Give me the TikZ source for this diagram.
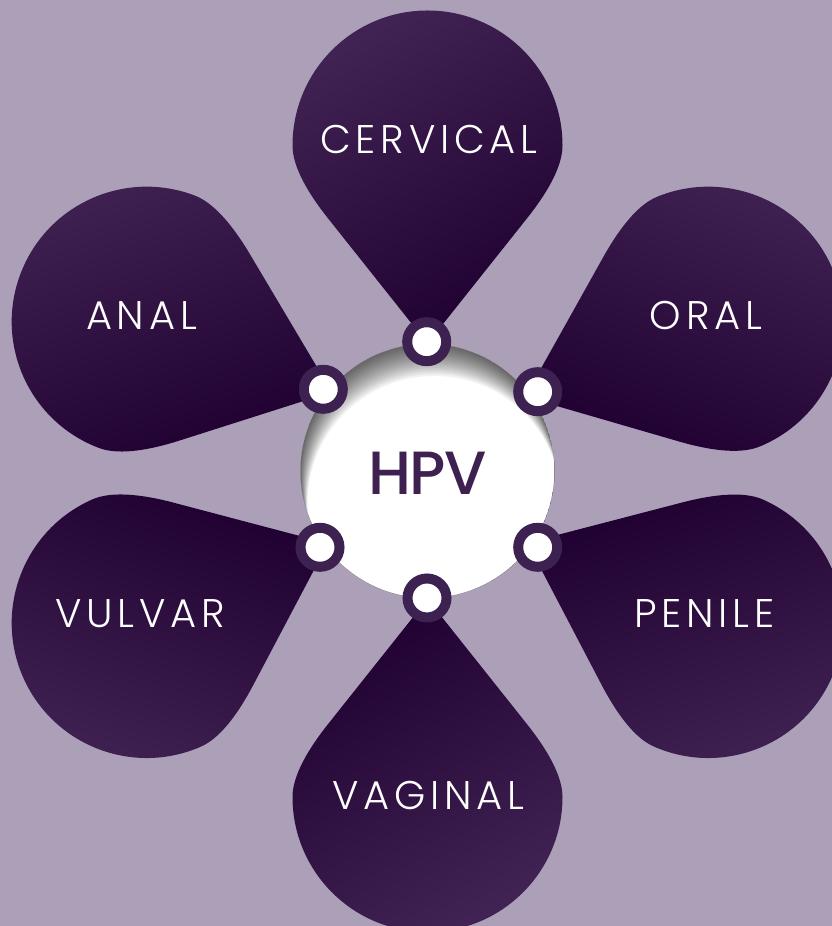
\documentclass[tikz,border=0pt]{standalone}
\usepackage{fontspec}
\newfontfamily\lblfont{Poppins}[UprightFont={* Light}, LetterSpace=12]
\newfontfamily\hpvfont{Poppins}[UprightFont={* Medium}, LetterSpace=-3]
\definecolor{bg}{HTML}{ACA0B9}
\definecolor{plight}{HTML}{402253}
\definecolor{pdark}{HTML}{1F0031}
\definecolor{ringc}{HTML}{3D2151}
\definecolor{hpvc}{HTML}{3F2151}
\def\petalpath{(0,-198) -- (100.8,-71.2) .. controls (123.6,-42.1) and (135,-18.3) .. (135,0) arc[start angle=0, end angle=180, radius=135] .. controls (-135,-18.3) and (-123.6,-42.1) .. (-100.8,-71.2) -- cycle}
\tikzset{
  lbl/.style={text=white, font=\lblfont\fontsize{40}{40}\selectfont, inner sep=0pt},
  ring/.style={circle, draw=ringc, line width=10pt, fill=white, minimum size=39pt, inner sep=0pt},
  farlight/.style={top color=plight, bottom color=pdark},
  fardark/.style={top color=pdark, bottom color=plight}
}
\begin{document}
\begin{tikzpicture}[x=1pt,y=1pt]
\useasboundingbox (0,0) rectangle (832,926);
\fill[bg] (0,0) rectangle (832,926);
\clip (0,0) rectangle (832,926);
% petals
\begin{scope}[shift={(427.5,780.5)}]
  \shade[farlight, shading angle=30] \petalpath;
\end{scope}
\begin{scope}[shift={(146.7,604.3)}, rotate=69.2]
  \shade[farlight, shading angle=20] \petalpath;
\end{scope}
\begin{scope}[shift={(708.3,604.3)}, rotate=-67.7]
  \shade[farlight, shading angle=-20] \petalpath;
\end{scope}
\begin{scope}[shift={(146.7,303)}, rotate=113.7]
  \shade[fardark, shading angle=-20] \petalpath;
\end{scope}
\begin{scope}[shift={(708.3,303)}, rotate=246.1]
  \shade[fardark, shading angle=20] \petalpath;
\end{scope}
\begin{scope}[shift={(427.5,129)}, rotate=180]
  \shade[fardark, shading angle=30] \petalpath;
\end{scope}
% labels
\node[lbl] (cervical) at (429,786.5) {CERVICAL};
\node[lbl] (anal) at (141.5,610) {ANAL};
\node[lbl] (oral) at (706,610) {ORAL};
\node[lbl] (vulvar) at (140.2,312) {VULVAR};
\node[lbl] (penile) at (704.5,312) {PENILE};
\node[lbl] (vaginal) at (428.5,130) {VAGINAL};
% centre circle with inset shadow
\coordinate (C) at (427.5,455);
\begin{scope}
  \clip (C) circle (127);
  \fill[white] (C) circle (127);
  \foreach \s in {2,4,...,32} {
    \fill[black, opacity=0.05, even odd rule] (C) circle (127) ([shift={(0.22*\s,-\s)}]C) circle (127);
  }
\end{scope}
\node[circle, minimum size=254pt, inner sep=0pt] (hub) at (C) {};
\node[text=hpvc, font=\hpvfont\fontsize{61}{61}\selectfont, inner sep=0pt] (hpv) at (427.3,452.7) {HPV};
% rings
\node[ring] (rtop) at (426.7,584.3) {};
\node[ring] (rul) at (323.3,536.7) {};
\node[ring] (rur) at (537.7,534.3) {};
\node[ring] (rll) at (320,378.7) {};
\node[ring] (rlr) at (537.7,378.7) {};
\node[ring] (rbot) at (427,328) {};
\end{tikzpicture}
\end{document}
